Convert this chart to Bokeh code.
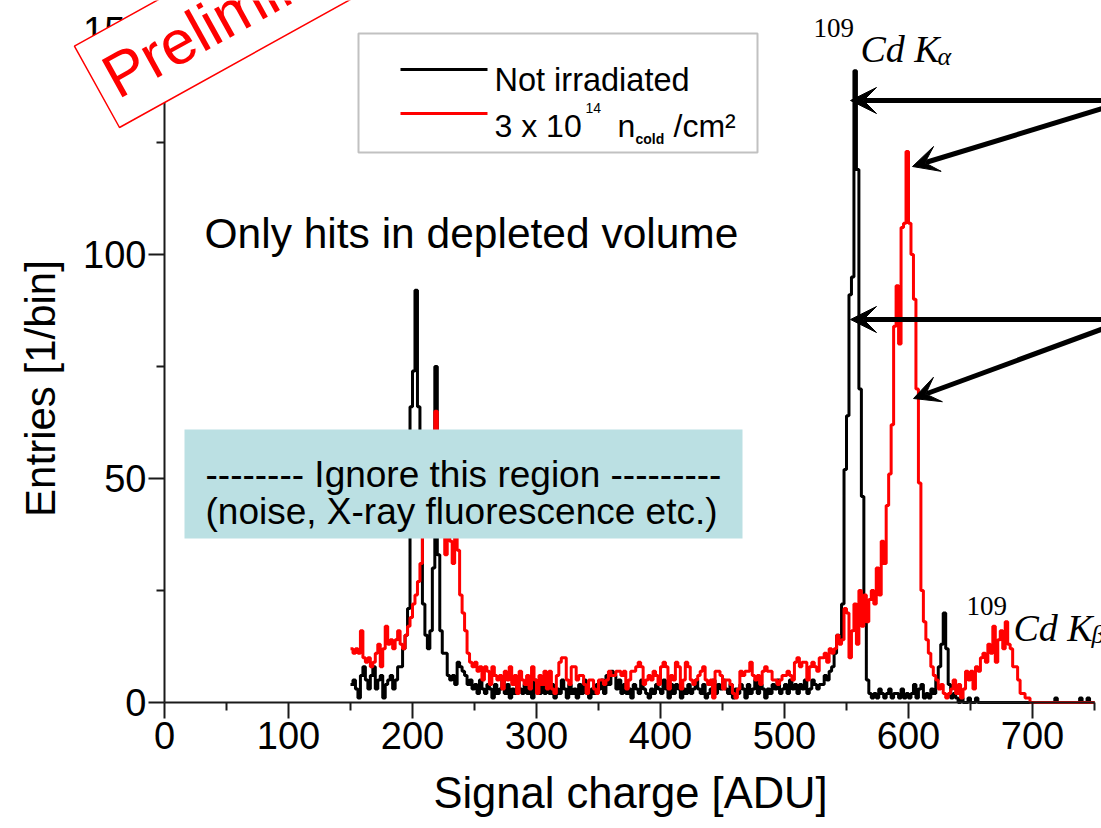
import math
import numpy as np
from bokeh.plotting import figure
from bokeh.models import (Label, BoxAnnotation, Arrow, VeeHead, Range1d,
                          FixedTicker, ColumnDataSource)
from bokeh.embed import file_html
from bokeh.resources import INLINE

# ------------------------------------------------------------------ data
bin_start = 150      # ADU, left edge of first bin
bin_width = 2        # ADU

# Entries per bin, "Not irradiated" (rows of 10 bins = 20 ADU, starting at 150)
not_irradiated = [
    4, 5, 3, 1, 6, 8, 5, 3, 6, 8,            # 150
    3, 5, 6, 1, 4, 5, 6, 3, 5, 8,            # 170
    8, 12, 15, 21, 66, 74, 92, 66, 40, 22,   # 190
    15, 12, 16, 30, 75, 33, 16, 11, 11, 6,   # 210
    5, 6, 4, 9, 8, 7, 6, 4, 5, 3,            # 230
    4, 2, 5, 3, 2, 4, 3, 1, 4, 2,            # 250
    3, 5, 2, 4, 1, 3, 2, 5, 3, 2,            # 270
    4, 2, 3, 1, 5, 3, 2, 4, 2, 3,            # 290
    2, 4, 1, 3, 2, 5, 3, 1, 4, 2,            # 310
    3, 1, 4, 2, 5, 2, 1, 3, 2, 4,            # 330
    3, 5, 2, 6, 4, 7, 6, 3, 5, 2,            # 350
    4, 2, 3, 1, 4, 3, 2, 5, 3, 2,            # 370
    1, 3, 2, 4, 3, 2, 5, 3, 1, 4,            # 390
    2, 4, 3, 1, 3, 2, 4, 2, 3, 5,            # 410
    3, 2, 4, 1, 2, 3, 5, 2, 4, 3,            # 430
    5, 3, 2, 4, 1, 3, 2, 4, 3, 1,            # 450
    4, 2, 3, 5, 2, 4, 3, 1, 3, 2,            # 470
    4, 3, 5, 2, 3, 4, 2, 5, 3, 4,            # 490
    2, 4, 3, 5, 2, 3, 5, 4, 3, 4,            # 510
    4, 6, 5, 7, 8, 11, 15, 14, 22, 52,       # 530
    64, 91, 95, 141, 119, 70, 46, 21, 5, 2,  # 550
    1, 2, 1, 3, 2, 1, 2, 3, 1, 2,            # 570
    2, 1, 3, 1, 2, 1, 2, 4, 1, 3,            # 590
    4, 1, 2, 1, 3, 2, 5, 8, 13, 20,          # 610
    12, 4, 1, 2, 1, 0, 1, 0, 0, 1,           # 630
    0, 0, 1, 0, 0, 0, 0, 0, 0, 0,            # 650
    0, 0, 0, 0, 0, 0, 0, 0, 0, 0,            # 670
    0, 0, 0, 0, 0, 0, 0, 0, 0, 0,            # 690
    0, 0, 0, 0, 1, 0, 0, 0, 0, 0,            # 710
    0, 0, 0, 0, 1, 0, 0, 1, 0, 0,            # 730
]

# Entries per bin, "3 x 10^14 n_cold/cm^2"
irradiated = [
    12, 11, 12, 11, 16, 10, 9, 10, 8, 9,     # 150
    11, 13, 8, 12, 17, 13, 14, 12, 14, 16,   # 170
    13, 12, 15, 17, 19, 22, 24, 27, 31, 38,  # 190
    45, 50, 48, 55, 65, 42, 38, 44, 33, 40,  # 210
    36, 31, 40, 34, 24, 20, 16, 11, 9, 8,    # 230
    9, 7, 8, 5, 8, 7, 4, 8, 6, 5,            # 250
    6, 3, 7, 5, 8, 4, 6, 2, 7, 5,            # 270
    4, 6, 3, 8, 5, 2, 6, 4, 7, 3,            # 290
    7, 3, 2, 6, 9, 10, 10, 5, 4, 8,          # 310
    8, 5, 6, 6, 4, 2, 5, 5, 3, 2,            # 330
    5, 5, 4, 5, 7, 6, 6, 7, 7, 6,            # 350
    7, 3, 5, 7, 7, 8, 9, 8, 4, 5,            # 370
    6, 5, 7, 6, 4, 8, 9, 8, 3, 6,            # 390
    5, 9, 8, 3, 5, 9, 8, 5, 4, 5,            # 410
    6, 7, 8, 5, 4, 5, 1, 7, 7, 6,            # 430
    3, 5, 5, 4, 2, 1, 3, 7, 6, 7,            # 450
    7, 9, 6, 5, 6, 4, 7, 8, 7, 7,            # 470
    5, 5, 4, 5, 6, 6, 7, 6, 5, 9,            # 490
    10, 8, 9, 9, 5, 8, 9, 8, 7, 10,          # 510
    10, 11, 9, 12, 11, 12, 15, 13, 14, 21,   # 530
    20, 10, 16, 22, 13, 25, 17, 24, 18, 23,  # 550
    25, 22, 30, 24, 36, 31, 44, 51, 62, 84,  # 570
    93, 80, 106, 107, 123, 107, 100, 90, 70, 49,  # 590
    25, 18, 14, 11, 8, 6, 5, 3, 4, 2,        # 610
    1, 2, 3, 5, 2, 4, 1, 3, 7, 5,            # 630
    7, 3, 8, 7, 10, 11, 9, 13, 11, 17,       # 650
    9, 14, 16, 12, 18, 13, 12, 8, 8, 5,      # 670
    2, 2, 1, 1, 0, 0, 0, 0, 0, 0,            # 690
    0, 0, 0, 0, 0, 0, 0, 0, 0, 0,            # 710
    0, 0, 0, 0, 0, 0, 0, 0, 0, 0,            # 730
]

x_major_ticks = [0, 100, 200, 300, 400, 500, 600, 700]
x_minor_ticks = [50, 150, 250, 350, 450, 550, 650, 750]
y_major_ticks = [0, 50, 100, 150]
y_minor_ticks = [25, 75, 125]
x_axis_bounds = (0, 750)
y_axis_bounds = (0, 150)
x_title = "Signal charge [ADU]"
y_title = "Entries [1/bin]"

# ------------------------------------------------------------ geometry
W, H = 1101, 828
ORIGIN_PX = (164, 702)          # canvas pixel of data (0, 0)
PX_PER_ADU = 1.24
PX_PER_ENTRY = 4.48
X_START = -ORIGIN_PX[0] / PX_PER_ADU
X_END = (W - ORIGIN_PX[0]) / PX_PER_ADU
Y_START = -(H - ORIGIN_PX[1]) / PX_PER_ENTRY
Y_END = ORIGIN_PX[1] / PX_PER_ENTRY


def dx(px):
    """canvas pixel x -> data x (for annotation placement)"""
    return (px - ORIGIN_PX[0]) / PX_PER_ADU


def dy(py):
    """canvas pixel y (from top) -> data y (for annotation placement)"""
    return (ORIGIN_PX[1] - py) / PX_PER_ENTRY


SANS = "Liberation Sans"
SERIF = "Liberation Serif"

p = figure(width=W, height=H, x_range=Range1d(X_START, X_END), y_range=Range1d(Y_START, Y_END),
           output_backend="svg", toolbar_location=None, min_border=0)
p.outline_line_color = None
p.grid.visible = False
p.background_fill_color = "white"
p.border_fill_color = "white"

for ax in (p.xaxis[0], p.yaxis[0]):
    ax.fixed_location = 0
    ax.axis_line_color = "#1a1a1a"
    ax.axis_line_width = 2
    ax.major_tick_line_color = "#1a1a1a"
    ax.major_tick_line_width = 2
    ax.major_tick_out = 16
    ax.major_tick_in = 0
    ax.minor_tick_line_color = "#1a1a1a"
    ax.minor_tick_line_width = 2
    ax.minor_tick_out = 8
    ax.minor_tick_in = 0
    ax.major_label_text_font = SANS
    ax.major_label_text_font_size = "38px"
    ax.major_label_text_color = "black"

p.xaxis[0].ticker = FixedTicker(ticks=x_major_ticks, minor_ticks=x_minor_ticks)
p.yaxis[0].ticker = FixedTicker(ticks=y_major_ticks, minor_ticks=y_minor_ticks)
p.xaxis[0].bounds = x_axis_bounds
p.yaxis[0].bounds = y_axis_bounds
p.xaxis[0].major_label_standoff = 3
p.yaxis[0].major_label_standoff = 2

# ------------------------------------------------------------ histograms
edges = bin_start + bin_width * np.arange(len(not_irradiated) + 1)
src_black = ColumnDataSource(dict(x=edges, y=np.append(not_irradiated, not_irradiated[-1])))
src_red = ColumnDataSource(dict(x=edges, y=np.append(irradiated, irradiated[-1])))
p.step("x", "y", source=src_black, mode="after", line_color="black", line_width=3)
p.step("x", "y", source=src_red, mode="after", line_color="#ff0000", line_width=3)


def txt(px, py, s, size, font=SANS, style="normal", color="black", align="left",
        baseline="alphabetic", angle=0.0):
    p.add_layout(Label(x=dx(px), y=dy(py), text=s, text_font=font, text_font_size=f"{size}px",
                       text_font_style=style, text_color=color, text_align=align,
                       text_baseline=baseline, angle=angle))


# ------------------------------------------------------------ axis titles
txt(630, 792, x_title, 43.5, align="center")
txt(40, 388, y_title, 42, align="center", baseline="middle", angle=math.pi / 2)

# ------------------------------------------------------------ legend
p.add_layout(BoxAnnotation(left=dx(358), right=dx(757), top=dy(33), bottom=dy(152),
                           fill_color="white", fill_alpha=1.0,
                           line_color="#333333", line_width=2))
leg = p.segment(x0=[dx(400), dx(400)], x1=[dx(487), dx(487)],
                y0=[dy(69), dy(113)], y1=[dy(69), dy(113)],
                line_color=["black", "#ff0000"], line_width=3)
leg.level = "overlay"

txt(494, 79, "Not irradiated", 32.5)
txt(494, 125, "3 x 10", 32)
txt(585, 107, "14", 14)
txt(617, 125, "n", 32)
txt(635, 138, "cold", 14, style="bold")
txt(673, 125, "/cm\u00b2", 32)

# ------------------------------------------------------------ notes
txt(204, 233, "Only hits in depleted volume", 42.5)

p.add_layout(BoxAnnotation(left=dx(184), right=dx(742), top=dy(429), bottom=dy(538),
                           fill_color="#bbe0e3", fill_alpha=1.0, line_color=None))
txt(205, 474, "-------- Ignore this region ---------", 37)
txt(205, 511, "(noise, X-ray fluorescence etc.)", 37)

# 109Cd K-alpha / K-beta labels
txt(813, 27, "109", 27, font=SERIF)
txt(860, 48, "Cd K", 38, font=SERIF, style="italic")
txt(937, 56, "\u03b1", 26, font=SERIF, style="italic")
txt(966, 605, "109", 27, font=SERIF)
txt(1013, 627, "Cd K", 38, font=SERIF, style="italic")
txt(1091, 634, "\u03b2", 26, font=SERIF, style="italic")

# arrows pointing at the peaks
for (x0, y0, x1, y1) in [(1125, 100, 850, 100), (1125, 101, 912, 166),
                         (1125, 319, 850, 319), (1125, 320, 913, 398)]:
    p.add_layout(Arrow(end=VeeHead(size=26, fill_color="black", line_color="black", line_width=1),
                       x_start=dx(x0), y_start=dy(y0), x_end=dx(x1), y_end=dy(y1),
                       line_color="black", line_width=5))

# "Preliminary" stamp
p.add_layout(Label(x=dx(119), y=dy(127), text="Preliminary", angle=math.radians(29),
                   text_font=SANS, text_font_size="62px", text_color="#ff0000",
                   text_align="left", text_baseline="bottom",
                   background_fill_color="white", background_fill_alpha=1.0,
                   border_line_color="#ff0000", border_line_width=1.5, padding=12))

open("out.html", "w").write(file_html(p, INLINE))
